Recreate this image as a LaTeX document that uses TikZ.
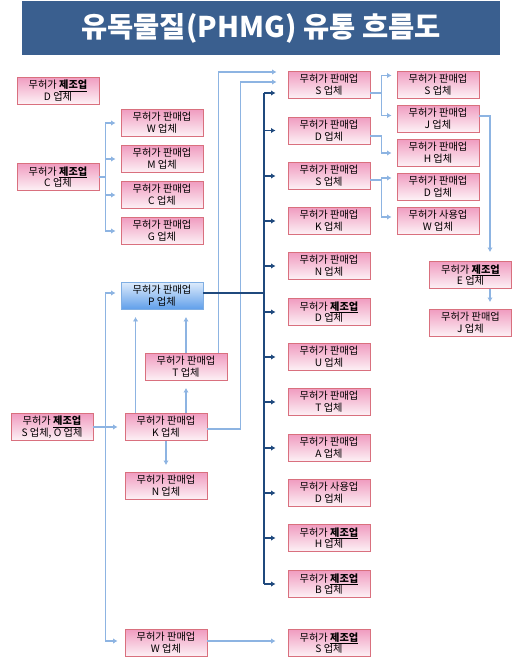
\documentclass[tikz,border=0pt]{standalone}
\usepackage{fontspec}
\setmainfont{Noto Sans CJK KR}
\usetikzlibrary{arrows.meta,calc}
\definecolor{titlebg}{HTML}{3A5F8F}
\definecolor{pinktop}{HTML}{F09CC0}
\definecolor{pinkbot}{HTML}{FDF2F6}
\definecolor{pinkborder}{HTML}{D9707E}
\definecolor{bluetop}{HTML}{DCEAFB}
\definecolor{bluebot}{HTML}{5E9EEA}
\definecolor{blueborder}{HTML}{7FAEE3}
\definecolor{lightline}{HTML}{8DB4E2}
\definecolor{darkline}{HTML}{1F497D}
\newcommand{\jejo}{\underline{\textbf{제조업}}}
\tikzset{
  box/.style={draw=pinkborder, line width=0.9pt, minimum width=82pt, minimum height=27pt,
    inner sep=0pt, align=center, font=\fontsize{10.2}{11.8}\selectfont,
    top color=pinktop, bottom color=pinkbot, shading angle=0},
  bluebox/.style={box, draw=blueborder, top color=bluetop, bottom color=bluebot},
  lb/.style={draw=lightline, line width=1.8pt},
  lbarrow/.style={lb, -{Latex[length=4.5pt,width=5.5pt]}, shorten >=7pt},
  lbfar/.style={lbarrow, shorten >=11pt},
  db/.style={draw=darkline, line width=1.8pt},
  dbarrow/.style={db, -{Latex[length=4.5pt,width=5.5pt]}, shorten >=12pt},
}
\begin{document}
\begin{tikzpicture}[x=1pt,y=-1pt]
\useasboundingbox (0,0) rectangle (520,665);
% title
\node[fill=titlebg, minimum width=478pt, minimum height=54pt, inner sep=0pt,
  text=white, font=\fontsize{28.5}{32}\selectfont\bfseries] (title) at (261,28) {유독물질(PHMG) 유통 흐름도};
% column 1
\node[box] (d1) at (58,90.5) {무허가 \jejo\\D 업체};
\node[box] (c1) at (58,177) {무허가 \jejo\\C 업체};
\node[box] (so) at (52,427) {무허가 \jejo\\S 업체, O 업체};
% column 2
\node[box] (w2) at (162,123) {무허가 판매업\\W 업체};
\node[box] (m2) at (162,159) {무허가 판매업\\M 업체};
\node[box] (c2) at (162,195) {무허가 판매업\\C 업체};
\node[box] (g2) at (162,231) {무허가 판매업\\G 업체};
\node[bluebox] (p) at (162,296) {무허가 판매업\\P 업체};
\node[box] (t) at (186,367) {무허가 판매업\\T 업체};
\node[box] (k) at (166,427) {무허가 판매업\\K 업체};
\node[box] (n) at (166,486) {무허가 판매업\\N 업체};
\node[box] (wb) at (166,643) {무허가 판매업\\W 업체};
% column 3
\node[box] (s3) at (329,85) {무허가 판매업\\S 업체};
\node[box] (d3) at (329,130.5) {무허가 판매업\\D 업체};
\node[box] (s3b) at (329,176) {무허가 판매업\\S 업체};
\node[box] (k3) at (329,221) {무허가 판매업\\K 업체};
\node[box] (n3) at (329,266) {무허가 판매업\\N 업체};
\node[box] (dj3) at (329,312) {무허가 \jejo\\D 업체};
\node[box] (u3) at (329,357) {무허가 판매업\\U 업체};
\node[box] (t3) at (329,402) {무허가 판매업\\T 업체};
\node[box] (a3) at (329,448) {무허가 판매업\\A 업체};
\node[box] (ds3) at (329,493) {무허가 사용업\\D 업체};
\node[box] (h3) at (329,538) {무허가 \jejo\\H 업체};
\node[box] (b3) at (329,584) {무허가 \jejo\\B 업체};
\node[box] (sj3) at (329,643) {무허가 \jejo\\S 업체};
% column 4
\node[box] (s4) at (438,84.5) {무허가 판매업\\S 업체};
\node[box] (j4) at (438,118.5) {무허가 판매업\\J 업체};
\node[box] (h4) at (438,153) {무허가 판매업\\H 업체};
\node[box] (d4) at (438,186.5) {무허가 판매업\\D 업체};
\node[box] (w4) at (438,220.5) {무허가 사용업\\W 업체};
% column 5
\node[box] (e5) at (470.5,275) {무허가 \jejo\\E 업체};
\node[box] (j5) at (470.5,323) {무허가 판매업\\J 업체};
% C -> column 2
\foreach \x in {w2,m2,c2,g2} \draw[lbarrow, shorten >=5pt] (c1.east) -- ++(6,0) |- (\x.west);
% S,O
\draw[lbarrow] (so.east) -- (k.west);
\draw[lbarrow, shorten >=5pt] (so.east) -- ++(12,0) |- ([yshift=3pt]p.west);
\draw[lbarrow] (so.east) -- ++(12,0) |- ([yshift=2pt]wb.west);
% K, T -> P, T, N
\draw[lbarrow] ([xshift=11pt]k.north west) -- ([xshift=11pt]k.north west |- p.south);
\draw[lbarrow] (k.north -| t) -- (t.south);
\draw[lbarrow] (t.north) -- (t.north |- p.south);
\draw[lbarrow] (k.south) -- (n.north);
% K, T -> S (col3)
\draw[lbfar] ([yshift=-2pt]k.east) -- ++(33,0) |- ([yshift=3pt]s3.west);
\draw[lbfar] ([xshift=-9pt]t.north east) |- ([yshift=13pt]s3.west);
% W -> S제조
\draw[lbarrow, shorten >=12pt] ([yshift=2pt]wb.east) -- ([yshift=2pt]sj3.west);
% P -> trunk
\coordinate (tr) at (264,0);
\draw[db] ([yshift=3pt]p.east) -- ([yshift=3pt]p.east -| tr);
\draw[db] ([yshift=-8pt]s3.west -| tr) -- (b3.west -| tr);
\draw[dbarrow] ([yshift=-8pt]s3.west -| tr) -- ([yshift=-8pt]s3.west);
\foreach \x in {d3,s3b,k3,n3,dj3,u3,t3,a3,ds3,h3,b3}
  \draw[dbarrow] (\x.west -| tr) -- (\x.west);
% column 3 -> column 4
\draw[lbarrow, shorten >=5pt] ([yshift=-8pt]s3.east) -- ++(11,0) |- ([yshift=9pt]s4.west);
\draw[lbarrow, shorten >=5pt] ([yshift=-8pt]s3.east) -- ++(11,0) |- ([yshift=3pt]j4.west);
\draw[lbarrow, shorten >=5pt] ([yshift=-5.5pt]d3.east) -- ++(11,0) |- (h4.west);
\draw[lbarrow, shorten >=5pt] ([yshift=-4pt]s3b.east) -- ++(11,0) |- ([yshift=8.5pt]d4.west);
\draw[lbarrow, shorten >=5pt] ([yshift=-4pt]s3b.east) -- ++(11,0) |- ([yshift=3.5pt]w4.west);
% J -> E -> J
\draw[lbarrow, shorten >=9pt] ([yshift=2.5pt]j4.east) -| ([xshift=19.5pt]e5.north);
\draw[lbarrow] ([xshift=19.5pt]e5.south) -- ([xshift=19.5pt]j5.north);
\end{tikzpicture}
\end{document}
